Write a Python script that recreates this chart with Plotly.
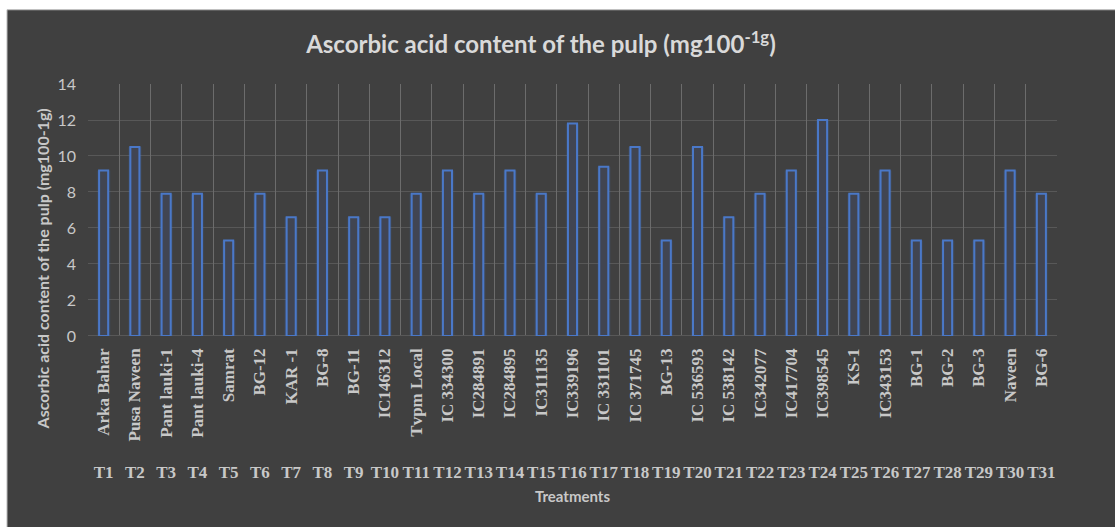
import plotly.graph_objects as go

treatments = [f"T{i}" for i in range(1, 32)]
cultivars = ["Arka Bahar", "Pusa Naveen", "Pant lauki-1", "Pant lauki-4", "Samrat", "BG-12",
             "KAR -1", "BG-8", "BG-11", "IC146312", "Tvpm Local", "IC 334300", "IC284891",
             "IC284895", "IC311135", "IC339196", "IC 331101", "IC 371745", "BG-13",
             "IC 536593", "IC 538142", "IC342077", "IC417704", "IC398545", "KS-1",
             "IC343153", "BG-1", "BG-2", "BG-3", "Naveen", "BG-6"]
ascorbic = [9.2, 10.5, 7.9, 7.9, 5.3, 7.9, 6.6, 9.2, 6.6, 6.6, 7.9, 9.2, 7.9, 9.2, 7.9,
            11.8, 9.4, 10.5, 5.3, 10.5, 6.6, 7.9, 9.2, 12.0, 7.9, 9.2, 5.3, 5.3, 5.3, 9.2, 7.9]

title_text = "Ascorbic acid content of the pulp (mg100<sup>-1g</sup>)"
y_title = "Ascorbic acid content of the pulp (mg100-1g)"
x_title = "Treatments"

BG = "#404040"
GRID = "#585858"
VGRID = "#6c6c6c"
TXT = "#c8c8c8"
BLUE = "#4a78c8"
n = len(cultivars)

fig = go.Figure()
# glow layers
fig.add_trace(go.Bar(x=cultivars, y=ascorbic, width=0.44,
                     marker=dict(color="rgba(68,114,196,0.10)", line=dict(width=0)),
                     hoverinfo="skip", showlegend=False))
fig.add_trace(go.Bar(x=cultivars, y=ascorbic, width=0.37,
                     marker=dict(color="rgba(68,114,196,0.25)", line=dict(width=0)),
                     hoverinfo="skip", showlegend=False))
# main outlined bars
fig.add_trace(go.Bar(x=cultivars, y=ascorbic, width=0.29,
                     marker=dict(color="#414552", line=dict(color=BLUE, width=2)),
                     showlegend=False))
# invisible trace to carry the treatment-code axis
fig.add_trace(go.Scatter(x=treatments, y=ascorbic, xaxis="x2", mode="markers",
                         marker=dict(opacity=0), hoverinfo="skip", showlegend=False))
# invisible trace on a linear index axis that supplies the category-boundary gridlines
fig.add_trace(go.Scatter(x=list(range(n)), y=ascorbic, xaxis="x3", mode="markers",
                         marker=dict(opacity=0), hoverinfo="skip", showlegend=False))

border = [
    dict(type="rect", xref="paper", yref="paper", x0=-0.2, x1=1.2, y0=1.1755, y1=1.3,
         fillcolor="white", line=dict(width=0), layer="below"),
    dict(type="rect", xref="paper", yref="paper", x0=-0.2, x1=-0.0836, y0=-0.2, y1=1.3,
         fillcolor="white", line=dict(width=0), layer="below"),
    dict(type="line", xref="paper", yref="paper", x0=-0.0836, x1=1.2, y0=1.1755, y1=1.1755,
         line=dict(color="#bdbdbd", width=1), layer="below"),
    dict(type="line", xref="paper", yref="paper", x0=-0.0836, x1=-0.0836, y0=-0.2, y1=1.1755,
         line=dict(color="#bdbdbd", width=1), layer="below"),
]

fig.update_layout(
    width=1115, height=527,
    margin=dict(l=88, r=58, t=84, b=20),
    paper_bgcolor=BG, plot_bgcolor="rgba(0,0,0,0)",
    barmode="overlay",
    title=dict(text=title_text, x=0.4675, xref="paper", y=0.915, yref="container",
               xanchor="center", yanchor="middle",
               font=dict(family="Lato", size=24, color="#d9d9d9", weight="bold")),
    xaxis=dict(type="category", categoryarray=cultivars, tickangle=-90,
               showgrid=False, ticks="", showline=False,
               zeroline=False, range=[-0.5, n - 0.5], ticklabelstandoff=8,
               tickfont=dict(family="Liberation Serif", size=17, color=TXT, weight="bold")),
    xaxis2=dict(type="category", categoryarray=treatments, overlaying="x",
                anchor="free", position=0.116, side="bottom",
                range=[-0.5, n - 0.5], showgrid=False, showline=False, ticks="",
                zeroline=False, ticklabelstandoff=2,
                tickfont=dict(family="Liberation Serif", size=17, color=TXT, weight="bold"),
                title=dict(text=x_title, standoff=10,
                           font=dict(family="Lato", size=15, color=TXT, weight="bold"))),
    xaxis3=dict(type="linear", overlaying="x", anchor="y", range=[-0.5, n - 0.5],
                tickmode="linear", tick0=-0.5, dtick=1, showgrid=True, gridcolor=VGRID,
                gridwidth=1.3, showticklabels=False, ticks="", zeroline=False,
                showline=False),
    yaxis=dict(domain=[0.4043, 1], range=[0, 14], dtick=2, showgrid=True,
               gridcolor=GRID, gridwidth=1, zeroline=True, zerolinecolor=GRID,
               zerolinewidth=1, showline=False, ticks="", ticklabelstandoff=11,
               tickfont=dict(family="Lato", size=16, color=TXT)),
    annotations=[
        dict(text=y_title, textangle=-90, xref="paper", yref="paper",
             x=-0.047, y=0.5626, xanchor="center", yanchor="middle", showarrow=False,
             font=dict(family="Lato", size=16, color=TXT, weight="bold")),
    ],
    shapes=border,
)

fig.write_html("out.html")
